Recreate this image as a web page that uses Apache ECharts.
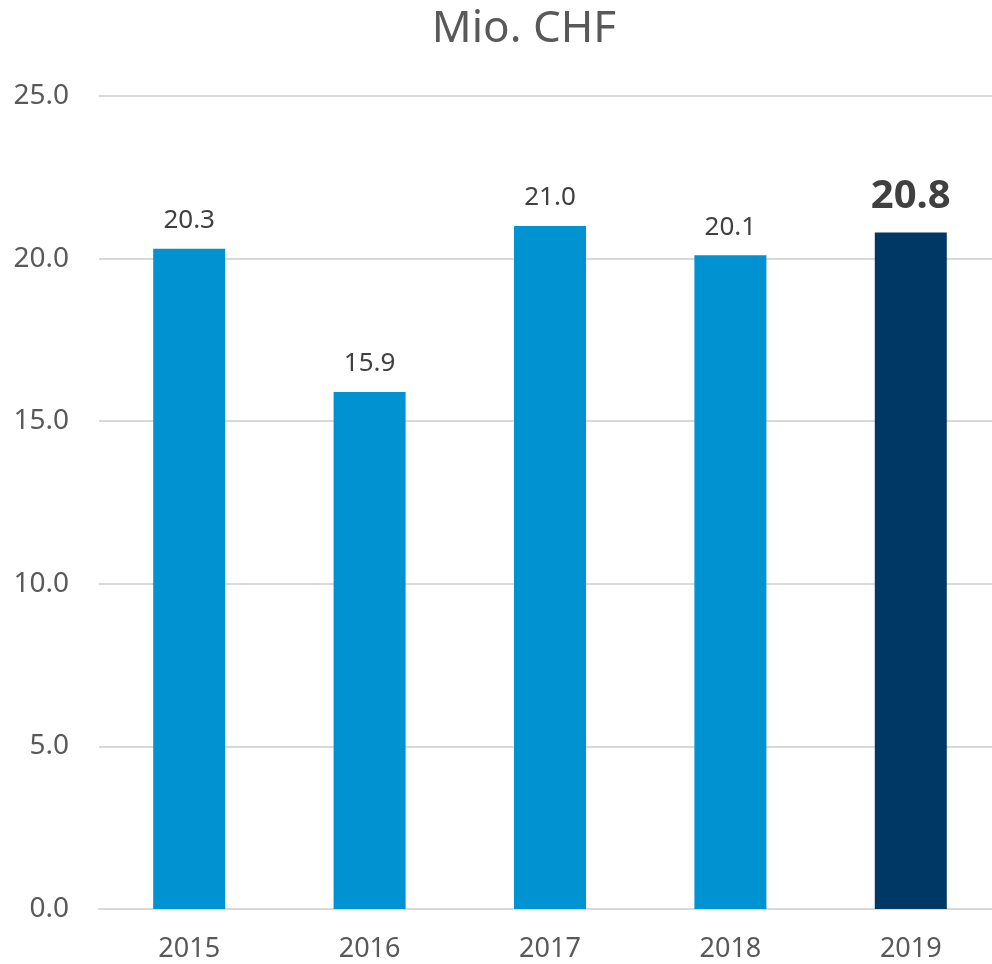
<!DOCTYPE html>
<html>
<head>
<meta charset="utf-8">
<script src="https://cdn.jsdelivr.net/npm/echarts@6/dist/echarts.min.js"></script>
<style>
  html, body { margin: 0; padding: 0; background: #fff; }
  #chart { width: 992px; height: 964px; }
</style>
</head>
<body>
<div id="chart"></div>
<script>
const years = ['2015', '2016', '2017', '2018', '2019'];
const values = [20.3, 15.9, 21.0, 20.1, 20.8];
const yTicks = [0, 5, 10, 15, 20, 25];

const fontFamily = '"Noto Sans", sans-serif';
const lastIdx = values.length - 1;

const chart = echarts.init(document.getElementById('chart'));

chart.setOption({
  backgroundColor: '#ffffff',
  animation: false,
  title: {
    text: 'Mio. CHF',
    left: 519,
    top: 2,
    textAlign: 'center',
    textStyle: { color: '#595959', fontSize: 44, fontWeight: 'normal', fontFamily },
  },
  // plot area runs a little past the right edge, as in the original
  grid: { left: 99, width: 902, top: 96, bottom: 55, outerBoundsMode: 'none' },
  xAxis: {
    type: 'category',
    data: years,
    axisTick: { show: false },
    axisLine: { lineStyle: { color: '#d9d9d9', width: 2 } },
    axisLabel: { color: '#595959', fontSize: 27, margin: 27, fontFamily },
  },
  yAxis: {
    type: 'value',
    min: yTicks[0],
    max: yTicks[yTicks.length - 1],
    interval: 5,
    axisLine: { show: false },
    axisTick: { show: false },
    splitLine: { lineStyle: { color: '#d9d9d9', width: 2 } },
    axisLabel: {
      color: '#595959', fontSize: 28, margin: 30, fontFamily,
      formatter: (v) => v.toFixed(1),
    },
  },
  series: [
    {
      type: 'bar',
      barWidth: 72,
      data: values.map((v, i) => ({
        value: v,
        itemStyle: { color: i === lastIdx ? '#003865' : '#0092d1' },
        label: i === lastIdx
          ? { fontSize: 40, fontWeight: 'bold', color: '#404040', distance: 16 }
          : { fontSize: 26, color: '#404040', distance: 15 },
      })),
      label: {
        show: true,
        position: 'top',
        fontFamily,
        formatter: (p) => p.value.toFixed(1),
      },
    },
  ],
});
</script>
</body>
</html>
